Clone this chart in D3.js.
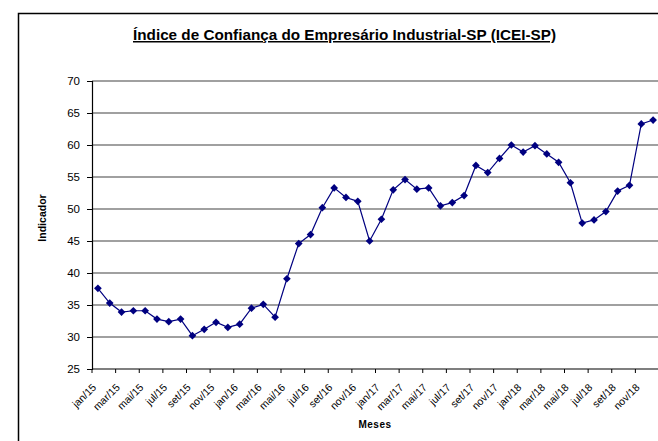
<!DOCTYPE html>
<html>
<head>
<meta charset="utf-8">
<script src="https://cdn.jsdelivr.net/npm/d3@7"></script>
<style>
  body { margin: 0; background: #fff; }
  svg { display: block; font-family: "Liberation Sans", Arial, sans-serif; }
</style>
</head>
<body>
<div id="chart"></div>
<script>
// data
const years = ["15", "16", "17", "18"];
const monthNames = ["jan", "fev", "mar", "abr", "mai", "jun", "jul", "ago", "set", "out", "nov", "dez"];
const months = [];
years.forEach(y => monthNames.forEach(m => months.push(m + "/" + y)));

const icei = [
  37.6, 35.3, 33.9, 34.1, 34.1, 32.8, 32.4, 32.8, 30.2, 31.2, 32.3, 31.5,
  32.0, 34.5, 35.1, 33.1, 39.1, 44.6, 46.0, 50.2, 53.3, 51.8, 51.2, 45.0,
  48.4, 53.0, 54.6, 53.1, 53.3, 50.5, 51.0, 52.1, 56.8, 55.7, 57.9, 60.0,
  58.9, 59.9, 58.6, 57.3, 54.1, 47.8, 48.3, 49.6, 52.8, 53.7, 63.3, 63.9
];
const yTicks = [25, 30, 35, 40, 45, 50, 55, 60, 65, 70];

let w = 658;
let h = 441;
const plot = { left: 92, right: 659, top: 81, bottom: 369 };

let svg = d3.select("#chart")
    .append("svg")
    .attr("width", w)
    .attr("height", h);

// outer chart border (runs off the right and bottom of the picture)
svg.append("rect")
    .attr("x", 18.5)
    .attr("y", 13.5)
    .attr("width", 700)
    .attr("height", 500)
    .attr("fill", "none")
    .attr("stroke", "#000")
    .attr("stroke-width", 1.5);

let xScale = d3.scaleBand()
    .domain(months)
    .range([plot.left, plot.right]);

let yScale = d3.scaleLinear()
    .domain([25, 70])
    .range([plot.bottom, plot.top]);

// gridlines
svg.append("g")
    .selectAll("line")
    .data(yTicks.slice(1))
    .enter()
    .append("line")
    .attr("x1", plot.left)
    .attr("x2", w)
    .attr("y1", d => yScale(d))
    .attr("y2", d => yScale(d))
    .attr("stroke", "#808080")
    .attr("stroke-width", 1.5);

// y axis
let yAxis = d3.axisLeft(yScale).tickValues(yTicks).tickSize(5).tickPadding(7);
let gy = svg.append("g")
    .attr("transform", "translate(" + plot.left + ",0)")
    .call(yAxis);
gy.select(".domain").attr("stroke", "#000").attr("stroke-width", 1.2);
gy.selectAll(".tick line").attr("stroke", "#000");
gy.selectAll("text").attr("font-size", 11.5).attr("font-family", "Liberation Sans, Arial, sans-serif").attr("fill", "#000");

// x axis: ticks between categories, every second month
let tickMonths = months.filter((d, i) => i % 2 === 0);
let gx = svg.append("g");
gx.append("line")
    .attr("x1", plot.left)
    .attr("x2", w)
    .attr("y1", plot.bottom)
    .attr("y2", plot.bottom)
    .attr("stroke", "#000")
    .attr("stroke-width", 1.2);
gx.selectAll(".xt")
    .data(tickMonths)
    .enter()
    .append("line")
    .attr("class", "xt")
    .attr("x1", d => xScale(d))
    .attr("x2", d => xScale(d))
    .attr("y1", plot.bottom)
    .attr("y2", plot.bottom + 4)
    .attr("stroke", "#000");
gx.selectAll(".xl")
    .data(tickMonths)
    .enter()
    .append("text")
    .attr("class", "xl")
    .attr("text-anchor", "end")
    .attr("font-size", 10.5)
    .attr("transform", d => "translate(" + (xScale(d) + xScale.bandwidth() / 2 - 1) + "," + (plot.bottom + 19) + ") rotate(-45)")
    .text(d => d);

// line
let line = d3.line()
    .x((d, i) => xScale(months[i]) + xScale.bandwidth() / 2)
    .y(d => yScale(d));

svg.append("path")
    .datum(icei)
    .attr("d", line)
    .attr("fill", "none")
    .attr("stroke", "#000080")
    .attr("stroke-width", 1.2);

svg.selectAll(".dot")
    .data(icei)
    .enter()
    .append("path")
    .attr("class", "dot")
    .attr("d", d3.symbol().type(d3.symbolDiamond2).size(38))
    .attr("transform", (d, i) => "translate(" + (xScale(months[i]) + xScale.bandwidth() / 2) + "," + yScale(d) + ")")
    .attr("fill", "#000080");

// title
svg.append("text")
    .attr("x", 133)
    .attr("y", 40)
    .attr("font-size", 15)
    .attr("font-weight", "bold")
    .attr("text-decoration", "underline")
    .attr("textLength", 423)
    .attr("lengthAdjust", "spacingAndGlyphs")
    .text("Índice de Confiança do Empresário Industrial-SP (ICEI-SP)");

// axis titles
svg.append("text")
    .attr("transform", "translate(46,218) rotate(-90)")
    .attr("text-anchor", "middle")
    .attr("font-size", 10.5)
    .attr("font-weight", "bold")
    .text("Indicador");

svg.append("text")
    .attr("x", 375)
    .attr("y", 428)
    .attr("text-anchor", "middle")
    .attr("font-size", 10)
    .attr("font-weight", "bold")
    .attr("letter-spacing", 0.5)
    .text("Meses");
</script>
</body>
</html>
